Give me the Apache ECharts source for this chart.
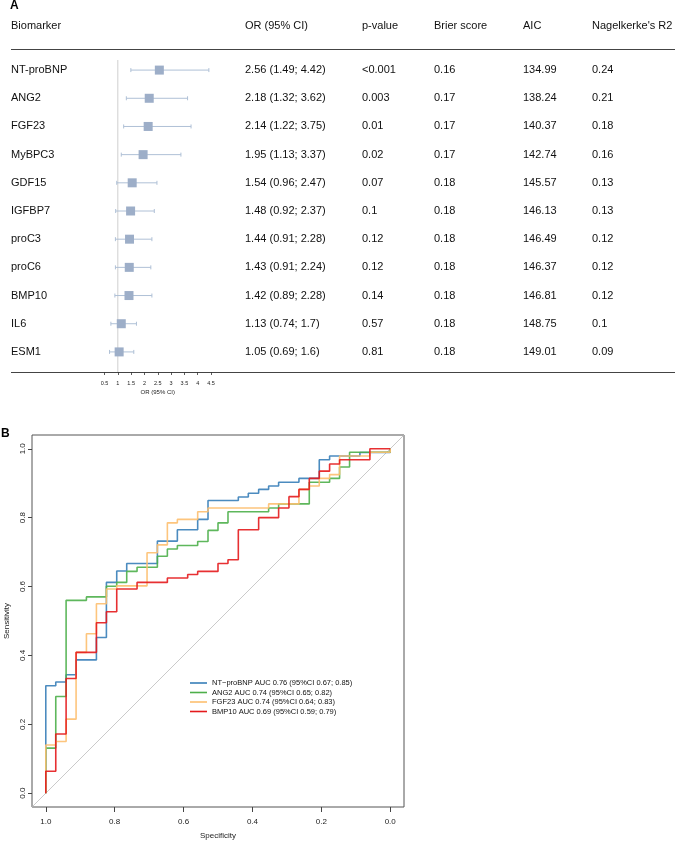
<!DOCTYPE html>
<html>
<head>
<meta charset="utf-8">
<script src="https://cdn.jsdelivr.net/npm/echarts@6/dist/echarts.min.js"></script>
<style>
  html, body { margin: 0; padding: 0; background: #fff; }
  #chart { width: 676px; height: 842px; }
</style>
</head>
<body>
<div id="chart"></div>
<script>
// panel A: forest table
const biomarkers = ['NT-proBNP', 'ANG2', 'FGF23', 'MyBPC3', 'GDF15', 'IGFBP7', 'proC3', 'proC6', 'BMP10', 'IL6', 'ESM1'];
const orValues = [2.56, 2.18, 2.14, 1.95, 1.54, 1.48, 1.44, 1.43, 1.42, 1.13, 1.05];
const ciLow = [1.49, 1.32, 1.22, 1.13, 0.96, 0.92, 0.91, 0.91, 0.89, 0.74, 0.69];
const ciHigh = [4.42, 3.62, 3.75, 3.37, 2.47, 2.37, 2.28, 2.24, 2.28, 1.7, 1.6];
const pValues = ['<0.001', '0.003', '0.01', '0.02', '0.07', '0.1', '0.12', '0.12', '0.14', '0.57', '0.81'];
const brierScores = ['0.16', '0.17', '0.17', '0.17', '0.18', '0.18', '0.18', '0.18', '0.18', '0.18', '0.18'];
const aicValues = ['134.99', '138.24', '140.37', '142.74', '145.57', '146.13', '146.49', '146.37', '146.81', '148.75', '149.01'];
const r2Values = ['0.24', '0.21', '0.18', '0.16', '0.13', '0.13', '0.12', '0.12', '0.12', '0.1', '0.09'];
const headers = ['Biomarker', 'OR (95% CI)', 'p-value', 'Brier score', 'AIC', "Nagelkerke's R2"];
const orTicks = { min: 0.5, max: 4.5, step: 0.5 };
const orReference = 1;

// panel B: ROC curves (specificity, sensitivity at each step)
const rocNames = ['NT\u2212proBNP', 'ANG2', 'FGF23', 'BMP10'];
const rocAuc = ['0.76', '0.74', '0.74', '0.69'];
const rocAucLow = ['0.67', '0.65', '0.64', '0.59'];
const rocAucHigh = ['0.85', '0.82', '0.83', '0.79'];
const specNtprobnp = [1, 1, 0.971, 0.941, 0.912, 0.853, 0.824, 0.794, 0.765, 0.676, 0.618, 0.559, 0.529, 0.441, 0.412, 0.382, 0.353, 0.324, 0.265, 0.206, 0.176, 0.088, 0];
const sensNtprobnp = [0, 0.312, 0.323, 0.344, 0.387, 0.452, 0.612, 0.645, 0.667, 0.732, 0.765, 0.795, 0.85, 0.86, 0.871, 0.882, 0.892, 0.903, 0.914, 0.968, 0.979, 0.989, 1];
const specAng2 = [1, 1, 0.971, 0.941, 0.882, 0.824, 0.794, 0.765, 0.735, 0.676, 0.647, 0.618, 0.559, 0.529, 0.5, 0.471, 0.353, 0.324, 0.235, 0.176, 0.147, 0.118, 0];
const sensAng2 = [0, 0.131, 0.281, 0.56, 0.57, 0.601, 0.612, 0.644, 0.656, 0.688, 0.709, 0.719, 0.731, 0.763, 0.785, 0.817, 0.828, 0.84, 0.903, 0.914, 0.947, 0.99, 1];
const specFgf23 = [1, 1, 0.971, 0.941, 0.912, 0.882, 0.853, 0.824, 0.794, 0.706, 0.676, 0.647, 0.618, 0.559, 0.529, 0.353, 0.265, 0.235, 0.206, 0.176, 0.147, 0.059, 0];
const sensFgf23 = [0, 0.14, 0.15, 0.215, 0.409, 0.463, 0.55, 0.593, 0.602, 0.698, 0.721, 0.785, 0.795, 0.817, 0.828, 0.84, 0.882, 0.892, 0.914, 0.925, 0.979, 0.99, 1];
const specBmp10 = [1, 1, 0.971, 0.941, 0.912, 0.853, 0.824, 0.794, 0.735, 0.647, 0.588, 0.559, 0.5, 0.471, 0.441, 0.382, 0.324, 0.294, 0.265, 0.235, 0.206, 0.176, 0.147, 0.059, 0];
const sensBmp10 = [0, 0.064, 0.172, 0.333, 0.409, 0.495, 0.527, 0.593, 0.612, 0.625, 0.635, 0.644, 0.667, 0.678, 0.765, 0.8, 0.828, 0.861, 0.882, 0.914, 0.935, 0.956, 0.968, 1, 1];
const rocTicks = [0, 0.2, 0.4, 0.6, 0.8, 1.0];
const rocRange = [-0.04, 1.04];

const FONT = "'Liberation Sans', Arial, Helvetica, sans-serif";
const rocColors = ['#377EB8', '#4DAF4A', '#FDBF6F', '#E41A1C'];
const colX = [11, 245, 362, 434, 523, 592];

const orLabels = orValues.map((v, i) => v + ' (' + ciLow[i] + '; ' + ciHigh[i] + ')');
const columns = [biomarkers, orLabels, pValues, brierScores, aicValues, r2Values];
const rocSpec = [specNtprobnp, specAng2, specFgf23, specBmp10];
const rocSens = [sensNtprobnp, sensAng2, sensFgf23, sensBmp10];
const legendNames = rocNames.map((n, i) => n + ' AUC ' + rocAuc[i] + ' (95%CI ' + rocAucLow[i] + '; ' + rocAucHigh[i] + ')');

const chart = echarts.init(document.getElementById('chart'));

// one hidden category axis per table column, shifted to the column's x
const textAxes = columns.map((col, c) => ({
  gridIndex: 0,
  type: 'category',
  data: biomarkers,
  inverse: true,
  position: 'left',
  offset: colX[0] - colX[c],
  axisLine: { show: false },
  axisTick: { show: false },
  axisLabel: {
    align: 'left', margin: 0, fontSize: 11, color: '#111', fontFamily: FONT,
    formatter: (v, i) => col[i]
  }
}));

const option = {
  animation: false,
  textStyle: { fontFamily: FONT },
  grid: [
    { left: 11, right: 1, top: 56, height: 310, outerBoundsMode: 'none' },
    { left: 104.5, width: 106.5, top: 56, height: 310, outerBoundsMode: 'none' },
    { left: 32, top: 435, width: 372, height: 372, show: true, borderColor: '#555', borderWidth: 1, outerBoundsMode: 'none' }
  ],
  xAxis: [
    { gridIndex: 0, type: 'value', show: false },
    {
      gridIndex: 1, type: 'value', min: orTicks.min, max: orTicks.max, interval: orTicks.step,
      offset: 6,
      axisLine: { show: false },
      axisTick: { show: true, length: 3, lineStyle: { color: '#333', width: 0.8 } },
      axisLabel: { fontSize: 5.5, margin: 8, color: '#222' },
      splitLine: { show: false },
      name: 'OR (95% CI)', nameLocation: 'middle', nameGap: 17,
      nameTextStyle: { fontSize: 6, color: '#222' }
    },
    {
      gridIndex: 2, type: 'value', min: rocRange[0], max: rocRange[1], inverse: true,
      axisLine: { show: false, onZero: false },
      axisTick: { show: true, customValues: rocTicks, length: 5, lineStyle: { color: '#444' } },
      axisLabel: { show: true, customValues: rocTicks, fontSize: 8, margin: 11, color: '#222', formatter: v => v.toFixed(1) },
      splitLine: { show: false },
      name: 'Specificity', nameLocation: 'middle', nameGap: 25,
      nameTextStyle: { fontSize: 8, color: '#222' }
    }
  ],
  yAxis: textAxes.concat([
    { gridIndex: 1, type: 'category', data: biomarkers, inverse: true, show: false },
    {
      gridIndex: 2, type: 'value', min: rocRange[0], max: rocRange[1],
      axisLine: { show: false, onZero: false },
      axisTick: { show: true, customValues: rocTicks, length: 4, lineStyle: { color: '#444' } },
      axisLabel: { show: true, customValues: rocTicks, rotate: 90, fontSize: 8, margin: 5, color: '#222', formatter: v => v.toFixed(1) },
      splitLine: { show: false },
      name: 'Sensitivity', nameLocation: 'middle', nameGap: 17,
      nameTextStyle: { fontSize: 8, color: '#222' }
    }
  ]),
  legend: {
    data: legendNames,
    orient: 'vertical',
    left: 190, top: 679,
    padding: 0,
    icon: 'rect',
    itemWidth: 17, itemHeight: 1.6, itemGap: 1.5,
    textStyle: { fontSize: 7.5, color: '#111' }
  },
  graphic: [
    { type: 'text', x: 10, y: 0, style: { text: 'A', font: 'bold 12px ' + FONT, fill: '#000' } },
    { type: 'text', x: 1, y: 428, style: { text: 'B', font: 'bold 12px ' + FONT, fill: '#000' } }
  ].concat(headers.map((h, c) => ({
    type: 'text', x: colX[c], y: 20.5,
    style: { text: h, font: '11px ' + FONT, fill: '#111' }
  }))).concat([
    { type: 'line', shape: { x1: 11, y1: 49.5, x2: 675, y2: 49.5 }, style: { stroke: '#444', lineWidth: 1 } },
    { type: 'line', shape: { x1: 11, y1: 372.5, x2: 675, y2: 372.5 }, style: { stroke: '#444', lineWidth: 1 } }
  ]),
  series: [
    {
      // vertical reference line at OR = 1
      type: 'custom',
      xAxisIndex: 1, yAxisIndex: 6,
      data: [[orReference, 0]],
      silent: true,
      renderItem: (params, api) => {
        const p = api.coord([api.value(0), 0]);
        const cs = params.coordSys;
        return {
          type: 'line',
          shape: { x1: p[0], y1: cs.y + 4, x2: p[0], y2: cs.y + cs.height + 6 },
          style: { stroke: '#cfcfcf', lineWidth: 1 }
        };
      },
      z: 1
    },
    {
      // CI whiskers
      type: 'custom',
      xAxisIndex: 1, yAxisIndex: 6,
      data: biomarkers.map((b, i) => [ciLow[i], i, ciHigh[i]]),
      silent: true,
      renderItem: (params, api) => {
        const lo = api.coord([api.value(0), api.value(1)]);
        const hi = api.coord([api.value(2), api.value(1)]);
        const st = { stroke: '#AFC0D6', lineWidth: 1 };
        return {
          type: 'group',
          children: [
            { type: 'line', shape: { x1: lo[0], y1: lo[1], x2: hi[0], y2: hi[1] }, style: st },
            { type: 'line', shape: { x1: lo[0], y1: lo[1] - 2, x2: lo[0], y2: lo[1] + 2 }, style: st },
            { type: 'line', shape: { x1: hi[0], y1: hi[1] - 2, x2: hi[0], y2: hi[1] + 2 }, style: st }
          ]
        };
      },
      z: 2
    },
    {
      type: 'scatter',
      xAxisIndex: 1, yAxisIndex: 6,
      symbol: 'rect', symbolSize: 9,
      itemStyle: { color: '#9DAEC8', opacity: 1 },
      data: orValues.map((v, i) => [v, i]),
      z: 3
    },
    {
      // chance diagonal across the whole box
      type: 'line',
      xAxisIndex: 2, yAxisIndex: 7,
      data: [[rocRange[1], rocRange[0]], [rocRange[0], rocRange[1]]],
      symbol: 'none', silent: true,
      lineStyle: { color: '#bdbdbd', width: 0.8 },
      z: 1
    }
  ].concat(legendNames.map((name, s) => ({
    name: name,
    type: 'line',
    xAxisIndex: 2, yAxisIndex: 7,
    step: 'end',
    symbol: 'none',
    color: rocColors[s],
    lineStyle: { color: rocColors[s], width: 1.6, opacity: 0.9 },
    data: rocSpec[s].map((x, i) => [x, rocSens[s][i]]),
    z: 2 + s
  })))
};

chart.setOption(option);
</script>
</body>
</html>
